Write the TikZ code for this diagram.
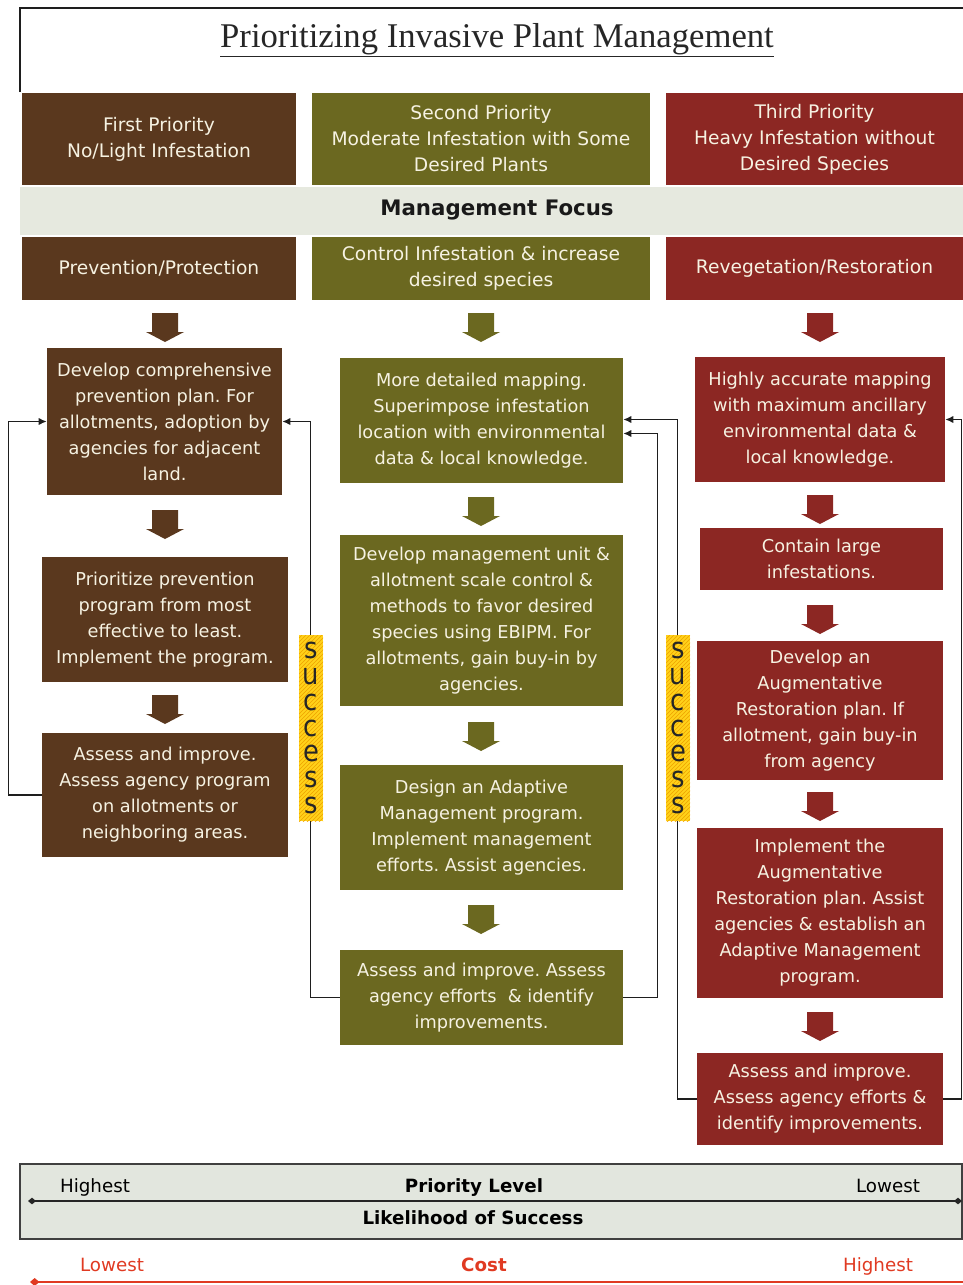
\documentclass[tikz,border=0pt]{standalone}
\usepackage{fontspec}
\usepackage{graphicx}
\setmainfont{DejaVu Sans}
\newfontfamily\titlefont{Liberation Serif}
\usetikzlibrary{arrows.meta,calc,patterns}
\definecolor{cbrown}{HTML}{5A381E}
\definecolor{colive}{HTML}{6B6820}
\definecolor{cred}{HTML}{8C2723}
\definecolor{ctext}{HTML}{F6F2E2}
\definecolor{cband}{HTML}{E6E9DF}
\definecolor{cbar}{HTML}{E2E6DE}
\definecolor{cyel}{HTML}{FFD21A}
\definecolor{chatch}{HTML}{EFA000}
\definecolor{ccost}{HTML}{E03A22}
\definecolor{cline}{HTML}{1E1E1E}
\newcommand\bx[7]{\node[#2, minimum width={(#5-#3)*0.75pt}, minimum height={(#6-#4)*0.75pt}] (#1) at ({(#3+#5)/2},{(#4+#6)/2}) {#7};}
\newcommand\dnarr[3]{\fill[#1] (#2-13,#3) -- (#2+13,#3) -- (#2+13,#3+19) -- (#2+19,#3+19) -- (#2,#3+29) -- (#2-19,#3+19) -- (#2-13,#3+19) -- cycle;}
\newcommand\sq[1]{\scalebox{0.88}[1]{#1}}
\frenchspacing
\tikzset{
  box/.style={inner sep=0pt, align=center, text=ctext, font=\fontsize{13.3pt}{19.5pt}\selectfont},
  hbox/.style={box, font=\fontsize{14pt}{19.5pt}\selectfont},
  fb/.style={draw=cline, line width=1.1pt, -{Latex[length=6pt,width=5.5pt]}},
  succ/.style={fill=cyel, postaction={pattern=north east lines, pattern color=chatch}, inner sep=0pt,
    minimum width=18pt, minimum height=139.5pt, align=center, text=black!85,
    font=\fontsize{22pt}{19.3pt}\selectfont},
  lbl/.style={inner sep=0pt, anchor=base, font=\fontsize{13.7pt}{16pt}\selectfont},
  blbl/.style={lbl, font=\fontsize{13.7pt}{16pt}\selectfont\bfseries}
}
\begin{document}
\begin{tikzpicture}[x=0.75pt, y=-0.75pt]
\useasboundingbox (0,0) rectangle (963,1285);
% frame and title
\draw[line width=1.2pt, cline] (20,92) -- (20,8) -- (963,8);
\node[inner sep=0pt, anchor=base, font=\titlefont\fontsize{26pt}{30pt}\selectfont, text=black!85] (title) at (497,47) {\underline{Prioritizing Invasive Plant Management}};
% header row
\bx{h1}{hbox, fill=cbrown}{22}{93}{296}{185}{First Priority\\No/Light Infestation}
\bx{h2}{hbox, fill=colive}{312}{93}{650}{185}{Second Priority\\Moderate Infestation with Some\\Desired Plants}
\bx{h3}{hbox, fill=cred}{666}{93}{963}{185}{Third Priority\\Heavy Infestation without\\Desired Species}
\bx{band}{inner sep=0pt, fill=cband}{20}{187}{963}{235}{}
\node[inner sep=0pt, font=\fontsize{16pt}{19pt}\selectfont\bfseries, text=black!90] (mf) at (497,210) {Management Focus};
\bx{f1}{hbox, fill=cbrown}{22}{237}{296}{300}{Prevention/Protection}
\bx{f2}{hbox, fill=colive}{312}{237}{650}{300}{Control Infestation \& increase\\desired species}
\bx{f3}{hbox, fill=cred}{666}{237}{963}{300}{Revegetation/Restoration}
% column 1
\bx{L1}{box, fill=cbrown}{47}{348}{282}{495}{Develop comprehensive\\prevention plan. For\\allotments, adoption by\\agencies for adjacent\\land.}
\bx{L2}{box, fill=cbrown}{42}{557}{288}{682}{Prioritize prevention\\program from most\\effective to least.\\Implement the program.}
\bx{L3}{box, fill=cbrown}{42}{733}{288}{857}{Assess and improve.\\Assess agency program\\on allotments or\\neighboring areas.}
% column 2
\bx{M1}{box, fill=colive}{340}{358}{623}{483}{More detailed mapping.\\Superimpose infestation\\location with environmental\\data \& local knowledge.}
\bx{M2}{box, fill=colive}{340}{535}{623}{706}{Develop management unit \&\\allotment scale control \&\\methods to favor desired\\species using EBIPM. For\\allotments, gain buy-in by\\agencies.}
\bx{M3}{box, fill=colive}{340}{765}{623}{890}{Design an Adaptive\\Management program.\\Implement management\\efforts. Assist agencies.}
\bx{M4}{box, fill=colive}{340}{950}{623}{1045}{Assess and improve. Assess\\agency efforts\ \ \& identify\\improvements.}
% column 3
\bx{R1}{box, fill=cred}{695}{357}{945}{482}{Highly accurate mapping\\with maximum ancillary\\environmental data \&\\local knowledge.}
\bx{R2}{box, fill=cred}{700}{528}{943}{590}{Contain large\\infestations.}
\bx{R3}{box, fill=cred}{697}{641}{943}{780}{Develop an\\Augmentative\\Restoration plan. If\\allotment, gain buy-in\\from agency}
\bx{R4}{box, fill=cred}{697}{828}{943}{998}{Implement the\\Augmentative\\Restoration plan. Assist\\agencies \& establish an\\Adaptive Management\\program.}
\bx{R5}{box, fill=cred}{697}{1053}{943}{1145}{Assess and improve.\\Assess agency efforts \&\\identify improvements.}
% block arrows
\dnarr{cbrown}{165}{313}
\dnarr{cbrown}{165}{510}
\dnarr{cbrown}{165}{695}
\dnarr{colive}{481}{313}
\dnarr{colive}{481}{497}
\dnarr{colive}{481}{722}
\dnarr{colive}{481}{905}
\dnarr{cred}{820}{313}
\dnarr{cred}{820}{495}
\dnarr{cred}{820}{605}
\dnarr{cred}{820}{792}
\dnarr{cred}{820}{1012}
% feedback connectors
\draw[fb] (L3.west) -- ++(-33,0) |- (L1.west);
\draw[fb] (M4.west) -- ++(-29,0) |- (L1.east);
\draw[fb] (M4.east) -- ++(34,0) |- ($(M1.east)+(0,13)$);
\draw[fb] (R5.west) -- ++(-19,0) |- ($(M1.east)+(0,-1)$);
\draw[fb] (R5.east) -- ++(18,0) |- (R1.east);
% success labels
\node[succ] (s1) at (311,728) {\sq{s}\\\sq{u}\\\sq{c}\\\sq{c}\\\sq{e}\\\sq{s}\\\sq{s}};
\node[succ] (s2) at (678,728) {\sq{s}\\\sq{u}\\\sq{c}\\\sq{c}\\\sq{e}\\\sq{s}\\\sq{s}};
% priority bar
\bx{bar}{inner sep=0pt, fill=cbar, draw=black!75, line width=1.4pt}{20}{1164}{962}{1239}{}
\node[lbl] (hi1) at (95,1192) {Highest};
\node[blbl] (pl) at (474,1192) {Priority Level};
\node[lbl] (lo1) at (888,1192) {Lowest};
\node[blbl] (ls) at (473,1224) {Likelihood of Success};
\coordinate (pa) at (28,1201);
\coordinate (pb) at (962,1201);
\draw[line width=1.1pt, black!85, {Diamond[length=6pt,width=5pt]}-{Diamond[length=6pt,width=5pt]}] (pa) -- (pb);
% cost
\node[lbl, text=ccost] (lo2) at (112,1271) {Lowest};
\node[blbl, text=ccost] (cost) at (484,1271) {Cost};
\node[lbl, text=ccost] (hi2) at (878,1271) {Highest};
\coordinate (ca) at (30,1282);
\coordinate (cb) at (963,1282);
\draw[line width=2.2pt, ccost, {Diamond[length=7pt,width=6pt]}-] (ca) -- (cb);
\end{tikzpicture}
\end{document}
